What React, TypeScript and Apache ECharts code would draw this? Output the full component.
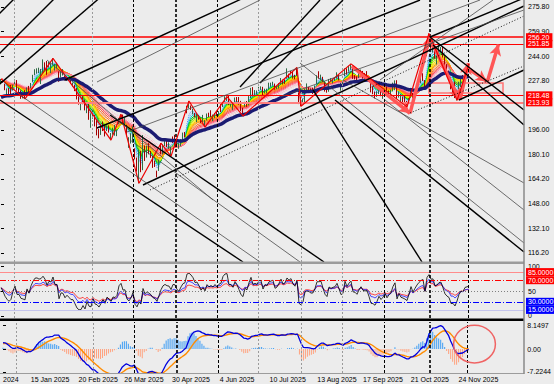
import React, { useEffect, useRef } from 'react';
import * as echarts from 'echarts';

// ---- daily candles (24 Dec 2024 .. 2 Dec 2025), index 0 = first bar ----
const opens = [
226.9,228.5,225.6,220.1,222.0,
222.0,222.5,226.8,227.9,223.2,221.5,218.1,220.4,222.8,224.4,225.8,228.9,232.0,234.1,234.5,226.2,234.3,239.0,238.7,236.5,
234.1,239.0,237.0,238.0,232.5,230.5,231.9,230.5,228.9,229.2,228.8,225.5,224.8,223.3,217.5,211.6,214.5,214.5,209.4,
213.4,200.1,204.8,204.4,199.5,195.6,193.9,200.7,198.2,197.4,198.8,192.5,193.4,193.1,192.9,200.0,203.6,205.8,200.9,198.4,188.2,
187.9,187.7,183.0,172.0,162.0,181.0,172.1,185.4,179.9,186.8,181.4,176.3,176.0,169.6,169.8,183.5,180.9,187.6,190.1,183.9,182.2,
190.6,191.4,186.5,184.3,185.6,191.4,193.4,210.7,211.1,211.5,206.5,206.9,201.6,204.6,201.6,201.4,198.9,203.1,205.9,208.0,204.8,
204.9,207.1,206.5,209.6,212.4,214.8,216.8,217.4,211.8,209.9,214.1,215.2,215.1,214.7,209.8,212.1,214.6,213.1,219.9,223.5,
219.5,219.7,221.8,223.0,223.5,221.1,221.6,223.6,225.1,226.2,225.9,223.3,225.1,225.8,228.5,228.5,229.6,232.2,233.4,234.2,231.6,235.8,
217.2,217.4,213.1,214.7,221.0,223.1,221.8,222.2,222.0,227.9,232.6,230.2,230.1,227.1,222.7,222.8,227.4,227.7,228.6,230.8,231.3,
223.5,225.2,231.2,235.2,234.9,236.7,237.5,231.5,230.4,230.6,233.1,233.7,232.5,232.4,228.3,227.8,224.2,219.8,219.1,220.1,222.0,
217.4,221.0,223.4,221.0,221.0,222.9,224.6,226.2,217.7,215.6,216.6,215.7,214.6,213.9,218.4,219.3,219.0,221.9,227.7,228.2,231.7,227.1,250.1,
255.4,250.4,249.0,249.2,242.9,248.3,248.4,250.2,243.1,235.1,233.3,228.1,223.7,227.1,216.4,222.6,226.4,230.7,231.2,
233.2,235.0];
const highs = [
229.1,228.5,226.0,223.0,223.2,
225.2,225.4,228.8,228.4,223.5,221.7,219.4,221.8,223.6,224.6,226.5,231.8,235.4,236.0,236.4,235.6,241.8,239.9,240.8,240.3,
239.3,242.5,238.8,239.7,234.0,233.9,235.5,231.2,230.4,229.9,229.0,226.8,225.3,223.3,217.7,214.1,217.8,215.6,212.6,
214.0,206.8,209.0,205.8,202.3,196.7,200.2,201.5,198.9,198.9,199.0,194.0,197.5,199.3,196.3,203.6,206.2,206.0,203.8,199.3,191.3,
193.9,198.3,184.1,178.1,183.4,182.5,192.7,185.9,185.9,187.4,182.4,179.1,176.2,169.6,176.8,187.4,186.7,189.9,190.2,188.0,185.0,
191.8,192.9,188.2,187.5,190.0,194.3,194.7,211.7,214.8,211.9,209.8,207.0,206.6,205.6,203.5,205.8,202.4,206.7,207.2,208.8,206.0,
207.0,208.0,208.2,212.8,214.1,217.9,217.7,218.4,213.6,214.1,217.1,217.4,217.4,214.9,210.4,214.3,214.8,218.0,223.3,223.8,
221.9,221.6,224.0,224.3,224.0,222.8,222.8,226.7,226.7,227.3,226.1,224.5,226.4,229.7,228.7,228.8,236.0,232.5,234.3,234.3,231.8,236.5,
220.4,217.4,216.3,222.7,226.2,223.8,223.0,223.5,224.9,231.5,234.1,231.9,230.5,227.3,222.8,229.1,229.6,229.3,229.9,233.4,231.8,
226.6,227.2,236.0,236.0,237.6,238.9,237.7,231.6,230.8,233.1,235.2,234.3,233.0,234.2,230.0,227.9,224.4,220.8,221.1,222.6,222.2,
222.2,222.8,224.2,221.7,222.2,226.7,228.2,228.3,220.7,219.3,217.7,218.6,214.8,216.7,223.3,220.0,221.3,225.4,228.4,231.5,232.8,228.4,250.5,
258.6,257.0,251.0,250.4,244.9,251.8,249.8,250.4,243.8,238.7,234.6,230.2,223.7,227.4,222.2,227.3,230.5,231.7,233.3,
235.8,238.9];
const lows = [
226.4,226.7,221.8,218.4,218.4,
218.2,221.6,224.8,221.5,220.6,216.2,216.5,216.2,220.6,220.3,223.1,227.2,231.5,232.6,232.9,225.8,233.0,234.9,231.8,236.4,
232.9,238.4,234.6,236.0,227.3,230.0,231.3,228.1,227.8,227.8,225.9,224.1,221.2,215.8,212.4,208.8,212.7,208.7,206.9,
202.6,197.4,203.3,198.3,192.5,190.6,192.8,195.3,191.8,195.3,194.3,189.4,192.9,192.3,192.0,199.9,203.2,199.9,199.3,191.9,184.4,
187.2,187.7,176.9,169.0,161.4,168.6,169.9,175.9,178.1,180.2,177.9,171.4,172.0,165.3,169.4,180.2,180.2,185.5,184.9,183.7,178.9,
187.5,185.9,185.0,183.8,185.5,188.8,191.2,206.8,210.1,209.0,206.1,204.1,201.1,202.6,200.5,200.9,197.9,202.2,204.4,204.2,201.7,
203.6,205.0,205.2,207.6,210.9,214.2,214.8,212.2,211.1,209.0,213.3,214.3,212.4,208.2,205.1,211.0,211.0,212.0,216.7,217.7,
217.9,219.1,221.4,222.0,218.4,219.7,219.7,222.4,224.0,224.8,222.2,222.5,222.9,225.3,225.5,225.9,229.3,229.7,232.1,229.3,228.9,231.4,
212.8,211.4,212.9,213.7,220.8,221.9,220.4,219.3,222.0,225.9,229.3,228.3,227.1,220.9,220.2,220.8,227.3,226.2,227.8,229.3,228.2,
221.5,224.4,231.0,231.9,233.8,235.0,229.1,228.8,226.9,229.7,232.3,229.3,228.1,230.3,227.2,220.4,219.2,216.5,217.5,219.3,217.9,
216.2,218.9,219.1,218.6,218.9,221.0,221.8,216.0,217.0,212.6,212.7,212.6,211.0,213.6,217.8,216.5,218.2,221.9,225.5,226.2,227.8,222.5,243.9,
252.9,248.7,246.2,242.2,238.5,245.6,247.2,243.0,236.5,232.9,229.5,222.4,218.5,216.7,215.2,222.3,223.8,228.8,230.2,
232.3,233.6];
const closes = [
229.05,227.05,223.75,221.30,219.39,
220.22,224.19,227.61,222.11,222.13,218.94,218.46,217.76,223.35,220.66,225.94,230.71,235.01,235.42,234.85,235.42,238.15,237.07,234.64,237.68,
237.42,242.06,238.83,238.83,229.15,233.14,232.76,228.93,230.37,228.68,226.65,226.63,222.88,216.58,212.71,212.80,214.35,208.74,212.28,
205.02,203.80,208.36,200.70,199.25,194.54,196.59,198.89,193.89,197.95,195.74,192.82,195.54,194.95,196.21,203.26,205.71,201.13,201.36,192.72,190.26,
192.17,196.01,178.41,171.00,175.26,170.66,191.10,181.22,184.87,182.12,179.59,174.33,172.61,167.32,173.18,180.60,186.54,188.99,187.70,187.39,184.42,
190.20,189.98,186.35,185.01,188.71,192.08,193.06,208.64,211.37,210.25,208.64,205.59,206.16,204.07,201.12,203.10,200.99,206.02,204.72,205.70,205.01,
206.65,205.71,207.23,207.91,213.57,216.98,217.61,213.20,213.24,212.10,216.10,214.82,212.52,209.69,208.47,212.77,211.99,217.12,223.30,219.39,
220.46,219.92,223.41,223.47,219.36,222.54,222.26,225.02,225.69,226.35,223.19,223.88,226.13,229.30,227.47,228.29,232.23,231.44,232.79,231.01,230.19,234.11,
214.75,211.65,213.75,222.31,223.13,222.69,221.30,221.47,224.56,230.98,231.03,231.49,228.01,223.81,221.95,228.84,227.94,228.71,229.12,231.60,229.00,
225.34,225.99,235.68,232.33,235.84,238.24,230.33,229.95,228.15,231.43,234.05,231.62,231.23,231.48,227.63,220.71,220.21,218.15,219.78,222.17,219.57,
220.63,222.41,219.51,220.90,221.78,225.22,227.74,216.37,220.07,216.39,215.57,214.47,213.04,216.48,222.03,217.95,221.09,224.21,226.97,229.25,230.30,222.86,244.22,
254.00,249.32,250.20,243.04,244.41,248.40,249.10,244.20,237.58,234.69,232.87,222.55,222.69,217.14,220.69,226.28,229.67,229.16,233.22,
233.88,234.42];

const SLOTS = 262; // bar slots across the plot, incl. empty right margin
const priceTicks = [275.80, 259.90, 244.00, 227.80, 196.00, 180.10, 164.20, 148.00, 132.10, 116.20];
const dateTicks: [number, string][] = [
  [0, '2024'], [14, '15 Jan 2025'], [38, '20 Feb 2025'], [61, '26 Mar 2025'], [85, '30 Apr 2025'],
  [109, '4 Jun 2025'], [134, '10 Jul 2025'], [158, '13 Aug 2025'], [181, '17 Sep 2025'], [205, '21 Oct 2025'], [229, '24 Nov 2025'],
];
const hLevels: [number, string, number][] = [[256.20, '#ff0000', 1.5], [251.85, '#ff0000', 1], [218.48, '#ff0000', 1], [213.93, '#ff7f7f', 2]];
const lastPrice = 234.40;
const vLines: [number, string][] = [
  [6.5, 'g'], [45.5, 'g'], [66, 'b'], [87.5, 'B'], [108, 'b'], [128.5, 'g'], [150, 'g'], [170.5, 'g'], [191.5, 'b'], [214.5, 'B'], [233.5, 'b'],
];
const zigzag: [number, number][] = [
  [0, 229.1], [12, 216.2], [26, 242.5], [55, 189.4], [60, 206.2], [69, 161.4], [80, 187.4], [85, 178.9], [94, 214.8], [102, 197.9],
  [113, 217.7], [121, 205.1], [148, 236.5], [150, 211.4], [175, 238.9], [203, 211.0], [214, 258.6], [228, 215.2], [234, 238.9],
];
const arrows: number[][] = [
  [175.4, 237.5, 204.5, 206.8], [204.5, 206.8, 214.5, 256.7], [214.5, 255.6, 229.2, 215.6],
  [229.5, 215.6, 233.7, 239.4], [234.5, 235.1, 242.9, 227.5], [243.2, 227.5, 248.7, 251.4],
];
const box = [214, 226.5, 251, 220.0];
const thickLines: number[][] = [
  [-10.5, 258.93, 19.5, 297.86], [-10.5, 232.97, 29.5, 284.88], [-10.5, 214.80, 54.5, 287.48],
  [32, 228.43, 124.5, 283.58], [48, 197.28, 209.5, 280.34], [71, 160.29, 261.5, 276.45],
  [119.5, 223.89, 159.5, 280.34], [129.5, 226.48, 171, 280.34], [229, 215.45, 261.5, 234.92],
  [214.5, 256.33, 261.5, 281.64], [-0.5, 215.45, 121, 110.33], [54.5, 205.72, 161.5, 110.33],
  [156, 221.94, 210.5, 110.33], [214.5, 256.33, 261.5, 208.96], [167, 215.45, 261.5, 116.81], [216, 251.14, 261.5, 199.23],
];
const thinLines: number[][] = [
  [48, 227.13, 129.5, 280.34], [63, 194.69, 239.5, 280.34], [9.5, 218.70, 129.5, 110.33], [23, 241.41, 106, 150.56],
  [64.5, 189.49, 149.5, 110.33], [171, 228.43, 261.5, 161.59], [192, 215.45, 261.5, 144.07], [149.5, 239.46, 261.5, 122.66],
  [139.5, 217.40, 261.5, 273.85], [189.5, 228.43, 246, 280.34],
];
const dottedLines: number[][] = [[74.5, 157.05, 261.5, 269.96], [204.5, 207.01, 261.5, 237.51]];
const ribbonPeriods = [3, 4, 5, 6, 7, 8, 9, 10, 11, 12, 14, 16, 18, 20, 23, 26];
const ribbonColors = ['#4f8cff', '#33b5ff', '#00c8c8', '#00c000', '#5ad800', '#b4ec00', '#f5f000', '#ffd000', '#ffae00', '#ff9000',
  '#ff7020', '#ff5a30', '#ff4a5a', '#ff7090', '#ff95aa', '#ffb4c4'];
const navyPeriod = 36;
const navySeed = 216.5;
const rsiLevels: [number, string, number[] | string, string | null, number][] = [
  [85, '#ff8c8c', 'solid', '#ff0000', 1], [70, '#ff0000', [6, 2, 1, 2], '#ff0000', 1], [50, '#808080', [1, 2], null, 1],
  [30, '#0000ff', [6, 2, 1, 2], '#0000ff', 1], [15, '#c4c4ec', 'solid', '#0000ff', 1],
];
// axis label texts and where they sit on each sub-window's scale (MT4 keeps them inside the panel)
const rsiAxisLabels: [number, string][] = [[4, '0'], [50, '50'], [96, '100']];
const macdRange = [-7.2244, 8.1497];
const macdAxisLabels: [number, string][] = [[-6.9, '-7.2244'], [0, '0.00'], [7.2, '8.1497']];
const macdSeeds = [225.5, 223.7, 1.6];
const histScale = 1.4;
const circle = [237, 1.5, 10.5, 5.7];

function emaSeries(src: number[], period: number, seed: number) {
  const k = 2 / (period + 1);
  let prev = seed;
  return src.map((v) => (prev = prev + k * (v - prev)));
}
function rsiSeries(src: number[], period: number) {
  let ag = 1.4, al = 1.1;
  return src.map((v, i) => {
    if (i > 0) {
      const d = v - src[i - 1];
      ag = (ag * (period - 1) + Math.max(d, 0)) / period;
      al = (al * (period - 1) + Math.max(-d, 0)) / period;
    }
    return 100 - 100 / (1 + ag / al);
  });
}

export default function App() {
  const ref = useRef<HTMLDivElement>(null);
  useEffect(() => {
    if (!ref.current) return;
    const chart = echarts.init(ref.current, null, { renderer: 'svg' });
    const cats = Array.from({ length: SLOTS }, (_, i) => String(i));
    const labelMap = new Map(dateTicks);
    const rsiLabelMap = new Map(rsiAxisLabels);
    const macdLabelMap = new Map(macdAxisLabels);
    const fast = emaSeries(closes, 12, macdSeeds[0]);
    const slow = emaSeries(closes, 26, macdSeeds[1]);
    const macd = fast.map((f, i) => f - slow[i]);
    const signal = emaSeries(macd, 9, macdSeeds[2]);
    const hist = macd.map((m, i) => (m - signal[i]) * histScale);
    const font = 'Liberation Sans';

    const seg = (l: number[], color: string, width: number, type: any) => ({
      type: 'line', xAxisIndex: 1, yAxisIndex: 0, data: [[l[0], l[1]], [l[2], l[3]]], showSymbol: false, silent: true, z: 5,
      lineStyle: { color, width, type },
    });
    const vLineSeries = (xi: number, yi: number) => ({
      type: 'line', xAxisIndex: xi, yAxisIndex: yi, data: [], silent: true, z: 1,
      markLine: {
        symbol: ['none', 'none'], silent: true, label: { show: false },
        data: vLines.map(([v, k]) => ({
          xAxis: v,
          lineStyle: { color: k === 'g' ? '#9a9a9a' : '#000', width: k === 'B' ? 1.6 : 1, type: k === 'g' ? [2, 2] : [3, 2] },
        })),
      },
    });

    const series: any[] = [];
    ribbonPeriods.forEach((p, k) => {
      series.push({
        type: 'line', xAxisIndex: 0, yAxisIndex: 0, data: emaSeries(closes, p, closes[0]), showSymbol: false, silent: true, z: 2,
        lineStyle: { color: ribbonColors[k], width: 1, type: k < 2 || k > 13 ? [1, 1] : 'solid' },
      });
    });
    series.push({
      type: 'candlestick', xAxisIndex: 0, yAxisIndex: 0, barWidth: 1, z: 3,
      data: closes.map((c, i) => [opens[i], c, lows[i], highs[i]]),
      itemStyle: { color: '#2f6b45', color0: '#a30000', borderColor: '#2f6b45', borderColor0: '#a30000', borderWidth: 1 },
    });
    series.push({
      type: 'line', xAxisIndex: 0, yAxisIndex: 0, data: emaSeries(closes, navyPeriod, navySeed), showSymbol: false, silent: true, z: 4,
      lineStyle: { color: '#1b1b72', width: 3.5 },
    });
    series.push({
      type: 'line', xAxisIndex: 1, yAxisIndex: 0, data: zigzag, showSymbol: false, silent: true, z: 5,
      lineStyle: { color: '#ee0000', width: 1.2 },
    });
    thickLines.forEach((l) => series.push(seg(l, '#000', 1.4, 'solid')));
    thinLines.forEach((l) => series.push(seg(l, '#4a4a4a', 0.8, 'solid')));
    dottedLines.forEach((l) => series.push(seg(l, '#000', 0.9, [1, 2])));
    series.push({
      type: 'line', xAxisIndex: 1, yAxisIndex: 0, data: [], silent: true, z: 6,
      markLine: {
        symbol: ['none', 'none'], silent: true,
        data: [
          ...hLevels.map(([v, c, w]) => ({
            yAxis: v, lineStyle: { color: c, width: w, type: 'solid' },
            label: { show: true, position: 'end', distance: 2, formatter: v.toFixed(2), color: '#fff', backgroundColor: '#ff0000', padding: [1, 3, 0, 2], fontSize: 7, fontFamily: font },
          })),
          {
            yAxis: lastPrice, lineStyle: { opacity: 0 },
            label: { show: true, position: 'end', distance: 2, formatter: lastPrice.toFixed(2), color: '#fff', backgroundColor: '#000', padding: [1, 3, 0, 2], fontSize: 7, fontFamily: font },
          },
        ],
      },
      markArea: {
        silent: true,
        itemStyle: { color: 'rgba(255,0,0,0.02)', borderColor: '#ff7373', borderWidth: 1.5 },
        data: [[{ coord: [box[0], box[1]] }, { coord: [box[2], box[3]] }]],
      },
    });
    series.push({
      type: 'line', xAxisIndex: 1, yAxisIndex: 0, data: [], silent: true, z: 7,
      markLine: {
        symbol: ['none', 'arrow'], symbolSize: [9, 11], silent: true, label: { show: false },
        lineStyle: { color: '#ff5656', width: 3.5, type: 'solid' },
        data: arrows.map((a) => [{ coord: [a[0], a[1]] }, { coord: [a[2], a[3]] }]),
      },
    });
    series.push(vLineSeries(1, 0));
    // RSI panel
    const rsiDefs: [number, string][] = [[21, '#ff2020'], [14, '#2020ff'], [7, '#000']];
    rsiDefs.forEach(([p, c]) => series.push({
      type: 'line', xAxisIndex: 2, yAxisIndex: 1, data: rsiSeries(closes, p), showSymbol: false, silent: true, z: 4,
      lineStyle: { color: c, width: 0.8 },
    }));
    series.push({
      type: 'line', xAxisIndex: 3, yAxisIndex: 1, data: [], silent: true, z: 3,
      markLine: {
        symbol: ['none', 'none'], silent: true,
        data: rsiLevels.map(([v, c, t, bg, w]) => ({
          yAxis: v, lineStyle: { color: c, width: w, type: t },
          label: bg
            ? { show: true, position: 'end', distance: 2, formatter: v.toFixed(4), color: '#fff', backgroundColor: bg, padding: [1, 3, 0, 2], fontSize: 7, fontFamily: font }
            : { show: false },
        })),
      },
    });
    series.push(vLineSeries(3, 1));
    // MACD panel
    series.push({
      type: 'bar', xAxisIndex: 4, yAxisIndex: 2, barWidth: 1, silent: true, z: 2,
      data: hist.map((h) => ({ value: h, itemStyle: { color: h >= 0 ? '#3c9cf4' : '#ffa27e' } })),
    });
    series.push({
      type: 'line', xAxisIndex: 4, yAxisIndex: 2, data: signal, showSymbol: false, silent: true, z: 3,
      lineStyle: { color: '#ff8c00', width: 1.4 },
    });
    series.push({
      type: 'line', xAxisIndex: 4, yAxisIndex: 2, data: macd, showSymbol: false, silent: true, z: 4,
      lineStyle: { color: '#0000dd', width: 1.3 },
    });
    series.push(vLineSeries(5, 2));
    series.push({
      type: 'custom', xAxisIndex: 5, yAxisIndex: 2, data: [circle], silent: true, z: 8, clip: false,
      renderItem: (_p: any, api: any) => {
        const c = api.coord([api.value(0), api.value(1)]);
        const s = api.size([api.value(2), api.value(3)]);
        return { type: 'ellipse', shape: { cx: c[0], cy: c[1], rx: s[0], ry: s[1] }, style: { fill: 'none', stroke: '#f06464', lineWidth: 1.5 } };
      },
    });

    const axLabel = { fontSize: 7, color: '#000', fontFamily: font, margin: 4 };
    const rsiVals = rsiAxisLabels.map((d) => d[0]);
    const macdVals = macdAxisLabels.map((d) => d[0]);
    chart.setOption({
      animation: false,
      backgroundColor: '#ececec',
      textStyle: { fontFamily: font },
      grid: [
        { left: 0, top: 0, width: 524, height: 262 },
        { left: 0, top: 264, width: 524, height: 54 },
        { left: 0, top: 322, width: 524, height: 51 },
      ],
      xAxis: [
        { type: 'category', gridIndex: 0, data: cats, show: false },
        { type: 'value', gridIndex: 0, min: -0.5, max: SLOTS - 0.5, show: false },
        { type: 'category', gridIndex: 1, data: cats, show: false },
        { type: 'value', gridIndex: 1, min: -0.5, max: SLOTS - 0.5, show: false },
        {
          type: 'category', gridIndex: 2, data: cats, axisLine: { show: false }, axisTick: { show: false }, splitLine: { show: false },
          axisLabel: { interval: (idx: number) => labelMap.has(idx), formatter: (_v: string, idx: number) => labelMap.get(idx) ?? '', align: 'left', fontSize: 7, color: '#000', fontFamily: font, margin: 3 },
        },
        { type: 'value', gridIndex: 2, min: -0.5, max: SLOTS - 0.5, show: false },
      ],
      yAxis: [
        {
          type: 'value', gridIndex: 0, position: 'right', min: 110.33, max: 280.34, splitLine: { show: false }, axisLine: { show: false },
          axisTick: { show: true, customValues: priceTicks, length: 3, lineStyle: { color: '#000' } },
          axisLabel: { ...axLabel, customValues: priceTicks, formatter: (v: number) => v.toFixed(2) },
        },
        {
          type: 'value', gridIndex: 1, position: 'right', min: 0, max: 100, splitLine: { show: false }, axisLine: { show: false },
          axisTick: { show: true, customValues: rsiVals, length: 3, lineStyle: { color: '#000' } },
          axisLabel: { ...axLabel, customValues: rsiVals, formatter: (v: number) => rsiLabelMap.get(v) ?? '' },
        },
        {
          type: 'value', gridIndex: 2, position: 'right', min: macdRange[0], max: macdRange[1], splitLine: { show: false }, axisLine: { show: false },
          axisTick: { show: true, customValues: macdVals, length: 3, lineStyle: { color: '#000' } },
          axisLabel: { ...axLabel, customValues: macdVals, formatter: (v: number) => macdLabelMap.get(v) ?? '' },
        },
      ],
      graphic: [
        { type: 'rect', silent: true, z: 100, shape: { x: 0, y: 261.5, width: 524, height: 2.5 }, style: { fill: '#9c9c9c' } },
        { type: 'rect', silent: true, z: 100, shape: { x: 0, y: 318.5, width: 524, height: 2.5 }, style: { fill: '#000' } },
        { type: 'line', silent: true, z: 100, shape: { x1: 0, y1: 373.5, x2: 524, y2: 373.5 }, style: { stroke: '#9c9c9c', lineWidth: 1 } },
        { type: 'line', silent: true, z: 100, shape: { x1: 524, y1: 0, x2: 524, y2: 374 }, style: { stroke: '#8a8a8a', lineWidth: 1.5 } },
      ],
      series,
    });
    return () => chart.dispose();
  }, []);
  return <div ref={ref} style={{ position: 'fixed', left: 0, top: 0, width: 554, height: 384, background: '#ececec' }} />;
}
